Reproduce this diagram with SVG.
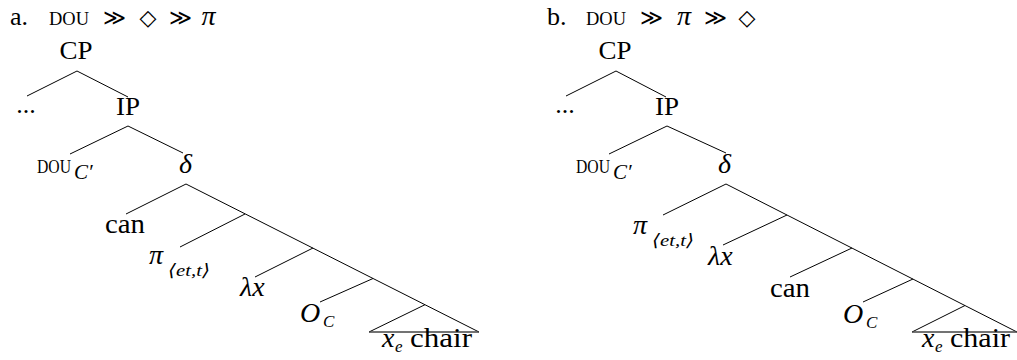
<svg xmlns="http://www.w3.org/2000/svg" width="1017" height="360" viewBox="0 0 1017 360">
<style>
text{font-family:"Liberation Serif","DejaVu Serif",serif;font-size:26px;fill:#000}
.w{font-size:27px}
.i{font-style:italic}
.g{font-style:italic;font-size:28px}
.sc{font-size:18px}
.sub{font-size:17px;font-style:italic}
.sym{font-family:"DejaVu Serif","Liberation Serif",serif;font-size:22px}
.m{text-anchor:middle}
.e line{stroke:#000;stroke-width:1}
.e line.base{stroke:#444;stroke-width:1.4}
</style>
<rect width="1017" height="360" fill="#fff"/>
<g id="edges" class="e">
<line x1="77" y1="71" x2="27" y2="96"/>
<line x1="77" y1="71" x2="128" y2="97"/>
<line x1="128" y1="126" x2="70" y2="154"/>
<line x1="128" y1="126" x2="183" y2="153"/>
<line x1="186" y1="184" x2="126" y2="214"/>
<line x1="186" y1="184" x2="479" y2="332"/>
<line x1="245" y1="214" x2="180" y2="247"/>
<line x1="313" y1="248" x2="255" y2="277"/>
<line x1="373" y1="278.5" x2="320" y2="302"/>
<line x1="425" y1="304.7" x2="369" y2="332"/>
<line class="base" x1="369" y1="332" x2="479" y2="332"/>
<line x1="616" y1="71" x2="566" y2="96"/>
<line x1="616" y1="71" x2="666" y2="97"/>
<line x1="667" y1="126" x2="609" y2="154"/>
<line x1="667" y1="126" x2="726" y2="153"/>
<line x1="726" y1="184" x2="663" y2="215"/>
<line x1="726" y1="184" x2="1017" y2="332"/>
<line x1="787" y1="215" x2="723" y2="245"/>
<line x1="852" y1="248" x2="790" y2="277"/>
<line x1="913" y1="279" x2="863" y2="302"/>
<line x1="965" y1="305.5" x2="912" y2="332"/>
<line class="base" x1="912" y1="332" x2="1017" y2="332"/>
</g>
<g id="header-a">
<text x="10" y="25">a.</text>
<text class="sc" x="49" y="25" textLength="40" lengthAdjust="spacingAndGlyphs">DOU</text>
<text class="sym m" x="114" y="25">≫</text>
<text class="sym m" x="148" y="25">◇</text>
<text class="sym m" x="180" y="25">≫</text>
<text class="g m" x="208.5" y="25">π</text>
</g>
<g id="a-CP"><text class="m" x="76" y="59" textLength="33" lengthAdjust="spacingAndGlyphs">CP</text></g>
<g id="a-dots"><text class="m" x="26" y="113">...</text></g>
<g id="a-IP"><text class="m" x="128" y="115" textLength="24" lengthAdjust="spacingAndGlyphs">IP</text></g>
<g id="a-DOU"><text x="37" y="173" style="font-size:18px" textLength="34" lengthAdjust="spacingAndGlyphs">DOU</text><text class="i" x="74" y="179" style="font-size:21px">C′</text></g>
<g id="a-delta"><text class="g m" x="185.5" y="173">δ</text></g>
<g id="a-can"><text class="w m" x="125" y="233" textLength="40" lengthAdjust="spacingAndGlyphs">can</text></g>
<g id="a-pi"><text class="g" x="149" y="264">π</text><text class="sub" x="168" y="276" textLength="42" lengthAdjust="spacingAndGlyphs">⟨et,t⟩</text></g>
<g id="a-lambda"><text class="g" x="240" y="296">λx</text></g>
<g id="a-OC"><text class="g" x="300" y="322">O</text><text class="sub" x="323" y="327">C</text></g>
<g id="a-chair"><text class="g" x="382" y="347">x</text><text class="sub" x="395" y="352">e</text><text class="w" x="410" y="347" textLength="62" lengthAdjust="spacingAndGlyphs">chair</text></g>

<g id="header-b">
<text x="547" y="25">b.</text>
<text class="sc" x="586" y="25" textLength="40" lengthAdjust="spacingAndGlyphs">DOU</text>
<text class="sym m" x="651" y="25">≫</text>
<text class="g m" x="684" y="25">π</text>
<text class="sym m" x="715" y="25">≫</text>
<text class="sym m" x="747" y="25">◇</text>
</g>
<g id="b-CP"><text class="m" x="615" y="59" textLength="33" lengthAdjust="spacingAndGlyphs">CP</text></g>
<g id="b-dots"><text class="m" x="565" y="113">...</text></g>
<g id="b-IP"><text class="m" x="667" y="115" textLength="24" lengthAdjust="spacingAndGlyphs">IP</text></g>
<g id="b-DOU"><text x="576" y="173" style="font-size:18px" textLength="34" lengthAdjust="spacingAndGlyphs">DOU</text><text class="i" x="613" y="179" style="font-size:21px">C′</text></g>
<g id="b-delta"><text class="g m" x="724.5" y="173">δ</text></g>
<g id="b-pi"><text class="g" x="633" y="234">π</text><text class="sub" x="652" y="246" textLength="42" lengthAdjust="spacingAndGlyphs">⟨et,t⟩</text></g>
<g id="b-lambda"><text class="g" x="708" y="265">λx</text></g>
<g id="b-can"><text class="w m" x="790" y="297" textLength="40" lengthAdjust="spacingAndGlyphs">can</text></g>
<g id="b-OC"><text class="g" x="843" y="323">O</text><text class="sub" x="866" y="328">C</text></g>
<g id="b-chair"><text class="g" x="922" y="347">x</text><text class="sub" x="935" y="352">e</text><text class="w" x="950" y="347" textLength="60" lengthAdjust="spacingAndGlyphs">chair</text></g>
</svg>
